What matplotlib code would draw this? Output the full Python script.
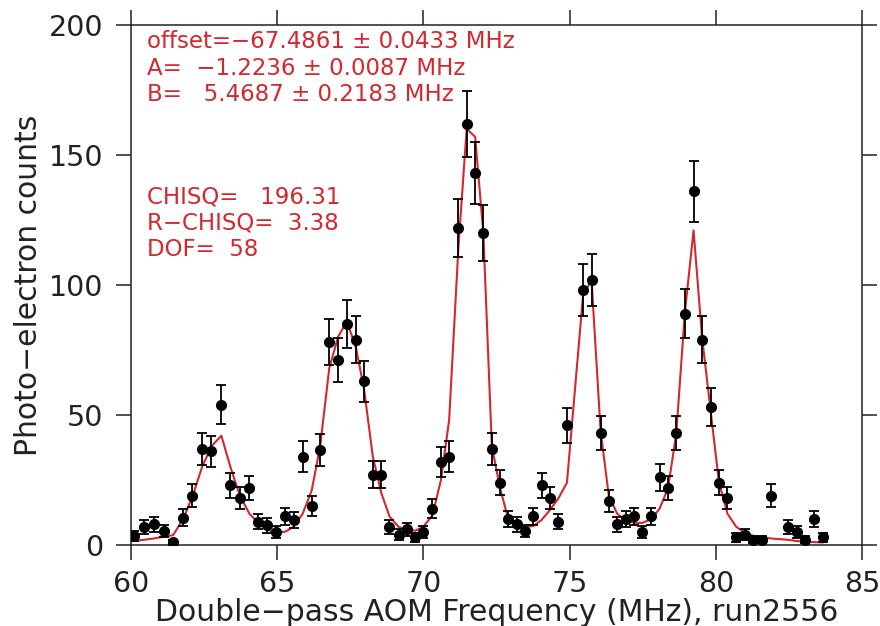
import numpy as np
import matplotlib
matplotlib.use("Agg")
import matplotlib.pyplot as plt

# scan data
freq = [60.10, 60.44, 60.78, 61.12, 61.44, 61.78, 62.10, 62.43, 62.75, 63.09,
        63.40, 63.72, 64.05, 64.35, 64.65, 64.96, 65.27, 65.56, 65.87, 66.18,
        66.47, 66.78, 67.08, 67.38, 67.69, 67.97, 68.27, 68.56, 68.84, 69.15,
        69.43, 69.72, 70.00, 70.31, 70.60, 70.88, 71.20, 71.48, 71.77, 72.05,
        72.34, 72.62, 72.90, 73.19, 73.47, 73.76, 74.04, 74.33, 74.62, 74.91,
        75.46, 75.75, 76.06, 76.34, 76.63, 76.92, 77.21, 77.49, 77.80, 78.08,
        78.37, 78.65, 78.94, 79.24, 79.53, 79.82, 80.11, 80.40, 80.70, 81.01,
        81.29, 81.59, 81.90, 82.48, 82.77, 83.06, 83.37, 83.66]
counts = [3.5, 7, 8, 5.5, 1, 10.5, 19, 37, 36, 54,
          23, 18, 22, 9, 7.5, 5, 11, 9.5, 34, 15,
          36.5, 78, 71, 85, 79, 63, 27, 27, 7, 4,
          6, 3, 5, 14, 32, 34, 122, 162, 143, 120,
          37, 24, 10, 8, 5.5, 11, 23, 18, 9, 46,
          98, 102, 43, 17, 8, 10, 11, 5, 11, 26,
          22, 43, 89, 136, 79, 53, 24, 18, 3, 4,
          2, 2, 19, 7, 5, 2, 10, 3]
# fitted curve, read at the same frequencies
fit = [1.5, 2, 2.5, 3.2, 3.8, 10, 18.6, 30, 38, 42,
       30, 19, 12, 8.5, 6, 4.7, 5.1, 7, 12, 21,
       38, 68, 80, 86, 76, 60, 34, 20, 11, 7,
       5.8, 5.5, 7, 11.5, 25, 48, 115, 160, 157, 120,
       38, 22, 10, 7.7, 6.9, 7.3, 9.6, 13.5, 18, 24,
       96, 102, 44, 19, 12, 9.5, 8.5, 8.5, 10, 14,
       22, 43, 89, 121, 80, 52, 24, 12, 7, 4.5,
       3.5, 3, 2.5, 2, 1.5, 1.3, 1.1, 1]

fit_text = ["offset=\u221267.4861 \u00b1 0.0433 MHz",
            "A=  \u22121.2236 \u00b1 0.0087 MHz",
            "B=   5.4687 \u00b1 0.2183 MHz"]
chi_text = ["CHISQ=   196.31",
            "R\u2212CHISQ=  3.38",
            "DOF=  58"]

red = "#d2282e"
ink = "#222222"

plt.rcParams["font.family"] = ["DejaVu Sans"]
fig = plt.figure(figsize=(8.8, 6.26), dpi=100)
ax = fig.add_axes([0.1489, 0.1294, 0.8306, 0.8307])

ax.plot(freq, fit, color=red, lw=1.5, zorder=2)
ax.errorbar(freq, counts, yerr=np.sqrt(counts), fmt="o", color="black",
            ms=7, elinewidth=1.3, capsize=3.6, capthick=1.3, zorder=3)

ax.set_xlim(60, 85)
ax.set_ylim(0, 200)
ax.set_xticks([60, 65, 70, 75, 80, 85])
ax.set_yticks([0, 50, 100, 150, 200])
ax.tick_params(direction="out", length=11, width=1.1, color=ink,
               labelsize=20.5, labelcolor=ink, pad=7,
               top=True, right=True)
ax.tick_params(axis="y", pad=9)
for s in ax.spines.values():
    s.set_linewidth(1.1)
    s.set_color(ink)

ax.set_xlabel("Double\u2212pass AOM Frequency (MHz), run2556",
              fontsize=21.5, color=ink, labelpad=0)
ax.set_ylabel("Photo\u2212electron counts", fontsize=21.5, color=ink, labelpad=4)

for i, t in enumerate(fit_text):
    ax.text(0.022, 0.968 - i * 0.051, t, transform=ax.transAxes,
            color=red, fontsize=16.5, va="center", ha="left", zorder=1)
for i, t in enumerate(chi_text):
    ax.text(0.022, 0.670 - i * 0.051, t, transform=ax.transAxes,
            color=red, fontsize=16.5, va="center", ha="left", zorder=1)

fig.savefig("out.png", dpi=100)
